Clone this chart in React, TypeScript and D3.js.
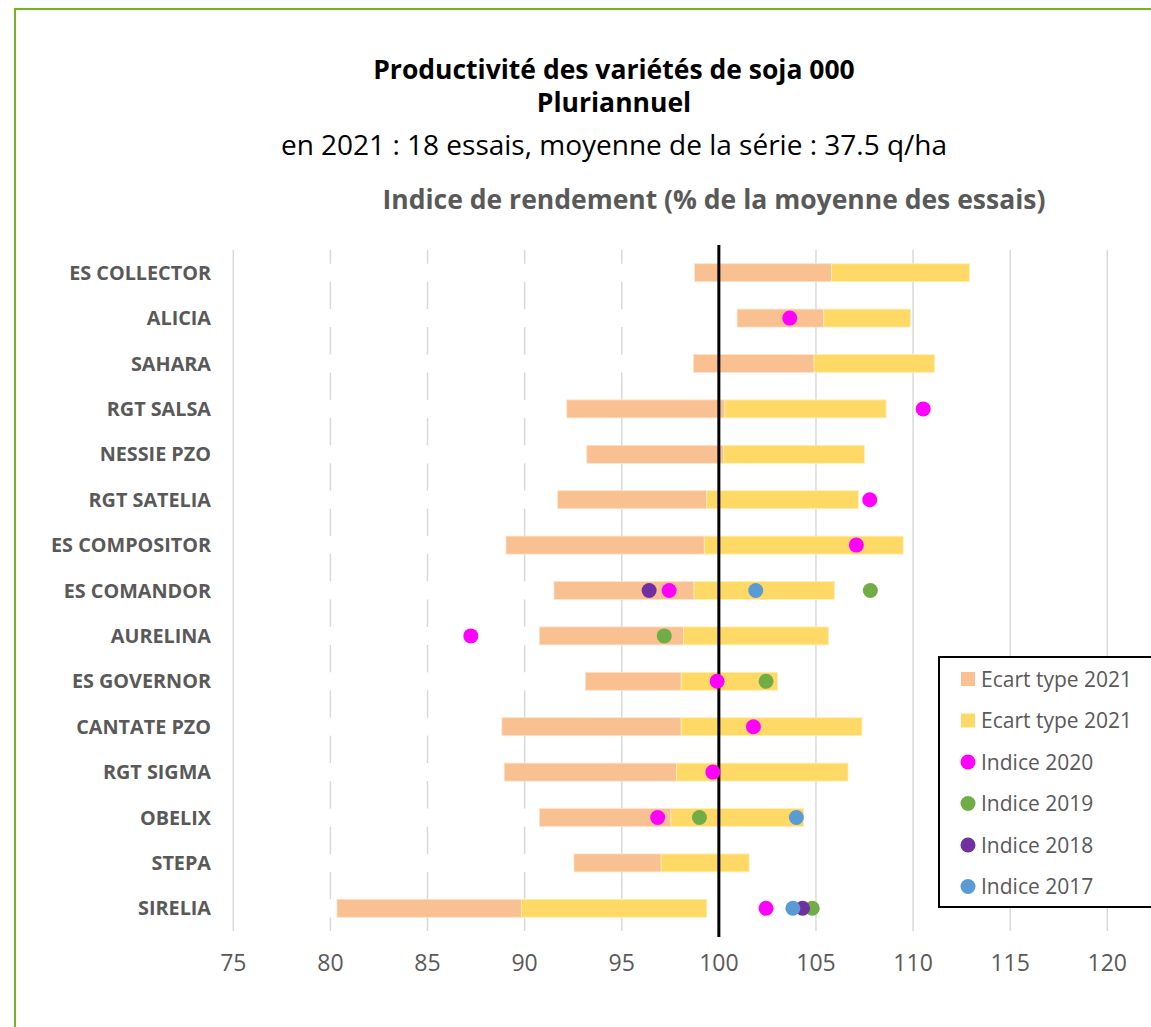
import React from "react";
import * as d3 from "d3";

const categories = [
  "ES COLLECTOR", "ALICIA", "SAHARA", "RGT SALSA", "NESSIE PZO", "RGT SATELIA",
  "ES COMPOSITOR", "ES COMANDOR", "AURELINA", "ES GOVERNOR", "CANTATE PZO",
  "RGT SIGMA", "OBELIX", "STEPA", "SIRELIA",
];
// lower bound (mean - sd), mean 2021, upper bound (mean + sd)
const lowVals = [98.75, 100.94, 98.69, 92.17, 93.2, 91.7, 89.04, 91.51, 90.76, 93.13, 88.83, 88.95, 90.76, 92.54, 80.34];
const midVals = [105.8, 105.4, 104.9, 100.31, 100.25, 99.38, 99.25, 98.72, 98.19, 98.06, 98.06, 97.82, 97.53, 97.03, 89.83];
const highVals = [112.9, 109.86, 111.1, 108.61, 107.49, 107.18, 109.49, 105.96, 105.65, 103.03, 107.37, 106.65, 104.37, 101.56, 99.38];

const indice2020 = [null, 103.65, null, 110.52, null, 107.77, 107.08, 97.44, 87.23, 99.91, 101.78, 99.69, 96.85, null, 102.43];
const indice2019 = [null, null, null, null, null, null, null, 107.8, 97.19, 102.43, null, null, 99.0, null, 104.81];
const indice2018 = [null, null, null, null, null, null, null, 96.41, null, null, null, null, null, null, 104.31];
const indice2017 = [null, null, null, null, null, null, null, 101.9, null, null, null, null, 103.99, null, 103.81];

const xTicks = [75, 80, 85, 90, 95, 100, 105, 110, 115, 120];

const titleLine1 = "Productivité des variétés de soja 000";
const titleLine2 = "Pluriannuel";
const subtitle = "en 2021 : 18 essais, moyenne de la série : 37.5 q/ha";
const axisTitle = "Indice de rendement (% de la moyenne des essais)";

const legendItems = [
  { label: "Ecart type 2021", color: "#F9C091", shape: "square" },
  { label: "Ecart type 2021", color: "#FFD966", shape: "square" },
  { label: "Indice 2020", color: "#FF00FF", shape: "circle" },
  { label: "Indice 2019", color: "#70AD47", shape: "circle" },
  { label: "Indice 2018", color: "#7030A0", shape: "circle" },
  { label: "Indice 2017", color: "#5B9BD5", shape: "circle" },
];

const dotSeries = [
  { values: indice2020, color: "#FF00FF" },
  { values: indice2019, color: "#70AD47" },
  { values: indice2018, color: "#7030A0" },
  { values: indice2017, color: "#5B9BD5" },
];

const FONT = "'Open Sans', 'Noto Sans', sans-serif";
const GRAY = "#595959";

export default function App() {
  const x = d3.scaleLinear().domain([75, 120]).range([233.3, 1107.3]);
  const y = d3
    .scaleBand<string>()
    .domain(categories)
    .range([250, 931])
    .paddingInner(0.604)
    .paddingOuter(0.302);
  const bw = y.bandwidth();

  return (
    <svg
      width={1151}
      height={1027}
      style={{ position: "absolute", left: 0, top: 0, background: "#fff" }}
      fontFamily={FONT}
    >
      <rect x={0} y={0} width={1151} height={1027} fill="#fff" />
      {/* frame */}
      <line x1={15} y1={8} x2={15} y2={1027} stroke="#78B41C" strokeWidth={2} />
      <line x1={14} y1={9} x2={1151} y2={9} stroke="#78B41C" strokeWidth={2} />

      {/* titles */}
      <text x={614} y={79} textAnchor="middle" fontWeight="bold" fontSize={26.5} fill="#000">
        {titleLine1}
      </text>
      <text x={614} y={112} textAnchor="middle" fontWeight="bold" fontSize={26.5} fill="#000">
        {titleLine2}
      </text>
      <text x={614} y={155} textAnchor="middle" fontSize={28} fill="#000">
        {subtitle}
      </text>
      <text x={714} y={209} textAnchor="middle" fontWeight="bold" fontSize={26.5} fill={GRAY}>
        {axisTitle}
      </text>

      {/* gridlines */}
      {xTicks.map((t) => (
        <line key={"g" + t} x1={x(t)} x2={x(t)} y1={250} y2={931} stroke="#D9D9D9" strokeWidth={1.5} />
      ))}

      {/* bars */}
      {categories.map((c, i) => {
        const y0 = y(c)!;
        return (
          <g key={c}>
            <rect x={x(75) + 1} y={y0} width={x(lowVals[i]) - x(75) - 1} height={bw} fill="#fff" />
            <rect
              x={x(lowVals[i])}
              y={y0}
              width={x(midVals[i]) - x(lowVals[i])}
              height={bw}
              fill="#F9C091"
              stroke="#FDE3CC"
              strokeWidth={0.8}
            />
            <rect
              x={x(midVals[i])}
              y={y0}
              width={x(highVals[i]) - x(midVals[i])}
              height={bw}
              fill="#FFD966"
              stroke="#FFEFB8"
              strokeWidth={0.8}
            />
          </g>
        );
      })}

      {/* reference line at 100 */}
      <line x1={x(100)} x2={x(100)} y1={245} y2={937} stroke="#000" strokeWidth={3} />

      {/* dots */}
      {dotSeries.map((s, si) =>
        s.values.map((v, i) =>
          v == null ? null : (
            <circle
              key={si + "-" + i}
              cx={x(v)}
              cy={y(categories[i])! + bw / 2}
              r={7.5}
              fill={s.color}
            />
          )
        )
      )}

      {/* category labels */}
      {categories.map((c) => (
        <text
          key={"l" + c}
          x={211}
          y={y(c)! + bw / 2}
          dy="0.36em"
          textAnchor="end"
          fontWeight="bold"
          fontSize={19.8}
          fill={GRAY}
        >
          {c}
        </text>
      ))}

      {/* tick labels */}
      {xTicks.map((t) => (
        <text key={"t" + t} x={x(t)} y={971} textAnchor="middle" fontSize={23} fill={GRAY}>
          {t}
        </text>
      ))}

      {/* legend */}
      <rect x={939} y={657} width={230} height={250} fill="#fff" stroke="#000" strokeWidth={2} />
      {legendItems.map((it, i) => {
        const cy = 679 + i * 41.5;
        return (
          <g key={"lg" + i}>
            {it.shape === "square" ? (
              <rect x={961} y={cy - 7} width={14} height={14} fill={it.color} />
            ) : (
              <circle cx={968} cy={cy} r={7.5} fill={it.color} />
            )}
            <text x={981} y={cy} dy="0.36em" fontSize={21} fill={GRAY}>
              {it.label}
            </text>
          </g>
        );
      })}
    </svg>
  );
}
